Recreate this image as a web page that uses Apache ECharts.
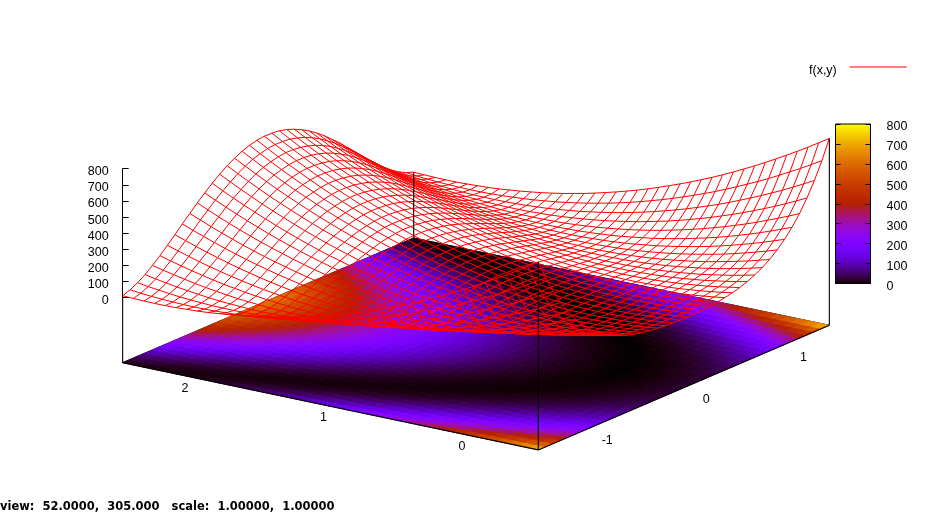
<!DOCTYPE html>
<html><head><meta charset="utf-8">
<style>html,body{margin:0;padding:0;background:#fff}#c{width:952px;height:515px}</style>
<script src="https://cdn.jsdelivr.net/npm/echarts@6/dist/echarts.min.js"></script>
</head><body><div id="c"></div>
<script>
const xRange=[-1.5,1.5];
const yRange=[-0.5,2.5];
const xTicks=[-1,0,1];
const yTicks=[0,1,2];
const zTicks=[0,100,200,300,400,500,600,700,800];
const seriesName='f(x,y)';
const statusText='view:  52.0000,  305.000   scale:  1.00000,  1.00000';
// surface heights: one row per x sample, one value per y sample
const r00=[762,721,680,641,603,566,530,495,462,429,398,368,340,312,286,261,237,214,192,172,153,135,118,102,88,74,62,51,42,33,26,19,14,11,8,6,6,7,9,12];
const r01=[644,606,568,533,498,464,432,401,371,342,314,288,263,239,216,194,174,154,136,119,103,89,75,63,52,42,34,26,20,15,11,8,6,6,7,9,12,16,22,29];
const r02=[541,506,472,439,408,378,349,321,294,268,244,221,199,178,159,140,123,107,92,78,66,55,44,36,28,21,16,12,9,7,6,7,8,11,15,20,27,35,43,53];
const r03=[451,419,388,358,330,303,277,252,229,206,185,165,146,128,112,97,82,70,58,47,38,30,23,17,12,9,6,5,5,6,9,13,17,23,31,39,48,59,71,84];
const r04=[374,345,318,291,265,241,218,196,176,156,138,121,105,90,76,64,53,43,34,26,20,14,10,7,6,5,6,7,10,15,20,26,34,43,53,64,77,91,105,121];
const r05=[308,282,257,233,210,189,168,149,131,115,99,85,71,59,49,39,30,23,17,12,8,6,4,4,5,7,11,15,21,28,36,45,56,67,80,94,109,126,143,162];
const r06=[253,230,207,186,166,147,129,112,97,83,70,58,47,38,29,22,16,11,8,5,4,4,5,8,11,16,22,29,37,47,57,69,82,96,112,128,146,165,185,206];
const r07=[207,186,166,147,129,112,97,83,70,58,47,38,29,22,16,11,8,5,4,4,5,8,11,16,22,29,37,47,57,69,82,96,112,128,146,165,185,206,229,252];
const r08=[168,149,131,115,99,85,71,59,49,39,30,23,17,12,8,6,4,4,5,7,11,15,21,28,36,45,56,67,80,94,109,126,143,162,182,203,225,249,273,299];
const r09=[136,119,103,88,74,62,51,41,32,24,18,12,8,5,4,3,4,5,8,13,18,24,32,41,51,62,75,89,103,119,137,155,174,195,217,240,264,290,317,344];
const r10=[110,95,80,68,56,45,36,28,21,15,10,7,4,3,3,4,7,11,15,21,29,37,46,57,69,82,96,112,128,146,165,186,207,229,253,278,304,331,360,390];
const r11=[89,75,63,52,41,33,25,18,13,9,6,4,3,4,5,8,12,17,24,32,40,50,61,74,87,102,118,135,153,173,193,215,238,262,288,314,342,371,401,432];
const r12=[71,59,48,38,30,22,16,11,7,4,2,2,3,5,8,12,18,25,32,42,52,63,76,90,105,121,138,157,176,197,219,243,267,293,320,348,377,407,439,472];
const r13=[58,47,38,29,22,15,10,7,4,2,2,3,5,8,13,18,25,33,42,53,64,77,91,106,122,140,158,178,199,221,245,269,295,322,350,379,410,441,474,508];
const r14=[48,38,30,22,16,11,7,4,2,2,3,5,8,12,18,25,32,42,52,63,76,90,105,121,138,157,176,197,219,243,267,293,320,348,377,407,439,472,506,541];
const r15=[40,32,24,17,12,8,5,3,2,3,4,7,11,16,23,31,39,49,60,73,86,101,117,134,152,172,192,214,237,261,287,313,341,370,400,431,464,498,532,568];
const r16=[35,27,20,14,9,6,3,2,2,3,6,10,14,20,28,36,45,56,68,81,95,111,127,145,164,185,206,228,252,277,303,330,359,389,419,451,485,519,555,591];
const r17=[30,22,16,10,6,3,2,1,2,3,6,11,16,22,30,39,49,60,73,87,101,117,135,153,172,193,215,238,262,288,315,342,371,402,433,466,499,534,570,608];
const r18=[27,20,14,9,5,3,1,1,2,4,8,12,18,25,33,42,53,64,77,91,106,123,140,159,179,200,222,246,270,296,323,351,381,411,443,476,510,545,582,620];
const r19=[26,19,13,8,5,2,1,1,2,5,8,13,19,26,34,44,54,66,79,93,109,125,143,162,182,203,226,249,274,300,327,356,385,416,448,481,515,551,587,625];
const r20=[25,18,12,7,4,1,0,0,1,4,7,12,18,25,33,43,53,65,78,92,108,124,142,161,181,202,225,248,273,299,326,355,384,415,447,480,514,550,586,624];
const r21=[26,19,13,8,4,2,0,0,1,3,7,11,17,24,32,41,52,63,76,90,105,122,139,158,178,199,221,245,269,295,322,350,380,410,442,475,509,544,581,619];
const r22=[29,21,15,9,5,2,1,0,1,2,5,10,15,21,29,38,48,59,72,86,100,116,134,152,171,192,214,237,261,287,314,341,370,401,432,465,498,533,569,607];
const r23=[33,25,18,12,7,4,1,0,0,1,4,8,12,18,26,34,43,54,66,79,93,109,125,143,162,183,204,226,250,275,301,328,357,387,417,449,483,517,553,589];
const r24=[38,30,22,15,10,6,3,1,0,1,2,5,9,14,21,29,37,47,58,71,84,99,115,132,150,170,190,212,235,259,285,311,339,368,398,429,462,496,530,566];
const r25=[46,36,28,20,14,9,5,2,0,0,1,3,6,10,16,23,30,40,50,61,74,88,103,119,136,155,174,195,217,241,265,291,318,346,375,405,437,470,504,539];
const r26=[56,45,36,27,20,13,8,5,2,0,0,1,3,6,11,16,23,31,40,51,62,75,89,104,120,138,156,176,197,219,243,267,293,320,348,377,408,439,472,506];
const r27=[69,57,46,36,28,20,14,9,5,2,0,0,1,3,6,10,16,23,30,40,50,61,74,88,103,119,136,155,174,195,217,241,265,291,318,346,375,405,437,470];
const r28=[86,72,60,49,38,30,22,15,10,6,3,1,0,1,2,5,9,14,21,29,37,47,58,71,84,99,115,132,150,170,190,212,235,259,285,311,339,368,398,429];
const r29=[107,92,77,65,53,42,33,25,18,12,7,4,1,0,0,1,4,8,12,18,26,34,43,54,66,79,93,109,125,143,162,183,204,226,250,275,301,328,357,387];
const r30=[133,116,100,85,71,59,48,38,29,21,15,9,5,2,1,0,1,2,5,10,15,21,29,38,48,59,72,86,100,116,134,152,171,192,214,237,261,287,314,341];
const r31=[164,145,127,111,95,81,67,55,45,35,26,19,13,8,4,2,0,0,1,3,7,11,17,24,32,41,52,63,76,90,105,122,139,158,178,199,221,245,269,295];
const r32=[203,182,162,143,125,108,93,79,66,54,43,34,25,18,12,7,4,1,0,0,1,4,7,12,18,25,33,43,53,65,78,92,108,124,142,161,181,202,225,248];
const r33=[249,226,203,182,162,143,125,108,93,79,66,54,43,34,25,18,12,7,4,1,0,0,1,4,7,12,18,25,33,43,53,65,78,92,108,124,142,161,181,202];
const r34=[304,278,253,229,206,185,164,145,127,111,95,81,67,55,45,35,26,19,13,8,4,2,0,0,1,3,7,11,17,24,32,41,52,63,76,90,105,122,139,158];
const r35=[369,340,313,286,260,236,213,191,171,151,133,116,100,85,71,59,48,38,29,21,15,9,5,2,1,0,1,2,5,10,15,21,29,38,48,59,72,86,100,116];
const r36=[446,414,383,353,325,298,272,247,224,201,180,160,141,123,107,92,77,65,53,42,33,25,18,12,7,4,1,0,0,1,4,8,12,18,26,34,43,54,66,79];
const r37=[535,500,466,433,402,372,343,315,288,262,238,215,193,172,153,134,117,101,86,72,60,49,38,30,22,15,10,6,3,1,0,1,2,5,9,14,21,29,37,47];
const r38=[638,600,562,527,492,458,426,395,365,336,308,282,257,233,210,188,168,148,130,113,97,83,69,57,46,36,28,20,14,9,5,2,0,0,1,3,6,10,16,23];
const r39=[756,715,674,635,597,560,524,489,456,423,392,362,334,306,280,255,231,208,186,166,147,129,112,96,82,68,56,45,36,27,20,13,8,5,2,0,0,1,3,6];
const surface=[r00,r01,r02,r03,r04,r05,r06,r07,r08,r09,r10,r11,r12,r13,r14,r15,r16,r17,r18,r19,r20,r21,r22,r23,r24,r25,r26,r27,r28,r29,r30,r31,r32,r33,r34,r35,r36,r37,r38,r39];

const nx=surface.length, ny=surface[0].length;
const zMax=800;
const rad=Math.PI/180, rotX=52*rad, rotZ=305*rad;
const view={cx:476,cy:344,sx:253.7,sy:123.5,floorGap:65,zSpan:129};
const xAt=i=>xRange[0]+(xRange[1]-xRange[0])*i/(nx-1);
const yAt=j=>yRange[0]+(yRange[1]-yRange[0])*j/(ny-1);
// 3D view projection; z===null means on the floor
function project(x,y,z){
  const u=(x-xRange[0])/(xRange[1]-xRange[0])*2-1;
  const v=(y-yRange[0])/(yRange[1]-yRange[0])*2-1;
  const px=view.cx+view.sx*(u*Math.cos(rotZ)+v*Math.sin(rotZ));
  let py=view.cy-view.sy*Math.cos(rotX)*(-u*Math.sin(rotZ)+v*Math.cos(rotZ));
  if(z!==null) py-=view.floorGap+z/zMax*view.zSpan;
  return [px,py];
}
function palette(g){ // gnuplot rgbformulae 7,5,15
  const c=t=>Math.round(255*Math.max(0,Math.min(1,t)));
  return `rgb(${c(Math.sqrt(g))},${c(g*g*g)},${c(Math.sin(2*Math.PI*g))})`;
}
const floorCells=[];
for(let i=0;i<nx-1;i++)for(let j=0;j<ny-1;j++)floorCells.push([i,j]);
const isolines=[];
for(let i=0;i<nx;i++)isolines.push(['x',i]);
for(let j=0;j<ny;j++)isolines.push(['y',j]);
const xa=xRange, ya=yRange;
const frameBack=[
  [[xa[0],ya[1],null],[xa[1],ya[1],null]],
  [[xa[1],ya[1],null],[xa[1],ya[0],null]]];
const frameFront=[
  [[xa[0],ya[1],null],[xa[0],ya[0],null]],
  [[xa[0],ya[0],null],[xa[1],ya[0],null]],
  [[xa[0],ya[1],null],[xa[0],ya[1],0]],
  [[xa[0],ya[0],null],[xa[0],ya[0],surface[0][0]]],
  [[xa[1],ya[0],null],[xa[1],ya[0],surface[nx-1][0]]],
  [[xa[1],ya[1],null],[xa[1],ya[1],surface[nx-1][ny-1]]]];
const lineSeries=(data,z)=>({type:'custom',coordinateSystem:'cartesian2d',xAxisIndex:0,yAxisIndex:0,z,silent:true,data:data.map((d,k)=>[k]),
  renderItem:(p,api)=>{const s=data[api.value(0)];const a=api.coord(project(...s[0])),b=api.coord(project(...s[1]));
    return {type:'line',shape:{x1:a[0],y1:a[1],x2:b[0],y2:b[1]},style:{stroke:'#000',lineWidth:1.1}};}});
const font='"Liberation Sans",Arial,sans-serif';
const axisLabel={color:'#000',fontFamily:font,fontSize:12.5,verticalAlign:'top',lineHeight:6};
const labelSeries=(ticks,pos,offX,offY)=>({type:'custom',coordinateSystem:'cartesian2d',xAxisIndex:0,yAxisIndex:0,z:6,silent:true,data:ticks.map(t=>[t]),
  renderItem:(p,api)=>{const t=api.value(0);const c=api.coord(pos(t));
    return {type:'text',x:c[0]+offX,y:c[1]+offY,style:{text:String(t),fill:'#000',font:'12.5px '+font,textAlign:'right',textVerticalAlign:'middle'}};}});
const gradStops=[];
for(let k=0;k<=64;k++)gradStops.push({offset:k/64,color:palette(1-k/64)});
const option={
  animation:false,backgroundColor:'#fff',
  title:{text:statusText,left:0,top:501,padding:0,textStyle:{fontFamily:'"DejaVu Sans",sans-serif',fontWeight:'bold',fontSize:11.5,color:'#000'}},
  legend:{data:[{name:seriesName,icon:'path://M0 0H712V12.5H0ZM0 100H0V100Z',itemStyle:{color:'#ff0000'}}],left:809,top:64,align:'right',itemWidth:57,itemHeight:8,padding:0,selectedMode:false,
    textStyle:{fontFamily:font,fontSize:12.5,color:'#000',padding:[0,8,0,0]}},
  grid:[{left:0,top:0,width:952,height:515,show:false},
        {left:122.7,top:168.7,width:1,height:129,show:false},
        {left:835.5,top:124,width:35,height:159.5,show:false}],
  xAxis:[{gridIndex:0,type:'value',min:0,max:952,show:false},
         {gridIndex:1,type:'value',min:0,max:1,show:false},
         {gridIndex:2,type:'value',min:0,max:1,show:false}],
  yAxis:[{gridIndex:0,type:'value',min:0,max:515,inverse:true,show:false},
         {gridIndex:1,type:'value',min:zTicks[0],max:zMax,interval:100,position:'left',z:6,
          axisLine:{show:true,onZero:false,lineStyle:{color:'#000',width:1}},axisTick:{show:true,inside:true,length:6,lineStyle:{color:'#000',width:1}},
          axisLabel:{...axisLabel,margin:14},splitLine:{show:false}},
         {gridIndex:2,type:'value',min:zTicks[0],max:zMax,interval:100,position:'left',z:6,
          axisLine:{show:false},axisTick:{show:true,inside:true,length:5,lineStyle:{color:'#000',width:1}},axisLabel:{show:false},splitLine:{show:false}},
         {gridIndex:2,type:'value',min:zTicks[0],max:zMax,interval:100,position:'right',z:6,
          axisLine:{show:false},axisTick:{show:true,inside:true,length:5,lineStyle:{color:'#000',width:1}},axisLabel:{...axisLabel,margin:16},splitLine:{show:false}}],
  series:[
    lineSeries(frameBack,1),
    {type:'custom',coordinateSystem:'cartesian2d',xAxisIndex:0,yAxisIndex:0,z:2,silent:true,data:floorCells,
     renderItem:(p,api)=>{const i=api.value(0),j=api.value(1);
       const mean=(surface[i][j]+surface[i+1][j]+surface[i][j+1]+surface[i+1][j+1])/4;
       const col=palette(Math.min(1,mean/zMax));
       const pts=[[i,j],[i+1,j],[i+1,j+1],[i,j+1]].map(q=>api.coord(project(xAt(q[0]),yAt(q[1]),null)));
       return {type:'polygon',shape:{points:pts},style:{fill:col,stroke:col,lineWidth:1}};}},
    {type:'custom',name:seriesName,coordinateSystem:'cartesian2d',xAxisIndex:0,yAxisIndex:0,z:3,silent:true,itemStyle:{color:'#ff0000'},
     data:isolines.map((d,k)=>[k]),
     renderItem:(p,api)=>{const d=isolines[api.value(0)];const pts=[];
       if(d[0]==='x'){for(let j=0;j<ny;j++)pts.push(api.coord(project(xAt(d[1]),yAt(j),surface[d[1]][j])));}
       else{for(let i=0;i<nx;i++)pts.push(api.coord(project(xAt(i),yAt(d[1]),surface[i][d[1]])));}
       return {type:'polyline',shape:{points:pts},style:{stroke:'#ff0000',fill:null,lineWidth:1}};}},
    lineSeries(frameFront,4),
    labelSeries(xTicks,t=>project(t,yRange[0],null),26,11.5),
    labelSeries(yTicks,t=>project(xRange[0],t,null),-3.5,11),
    {type:'custom',coordinateSystem:'cartesian2d',xAxisIndex:2,yAxisIndex:2,z:4,silent:true,data:[[0,zMax]],
     renderItem:(p,api)=>{const a=api.coord([0,api.value(1)]),b=api.coord([1,api.value(0)]);
       return {type:'rect',shape:{x:a[0],y:a[1],width:b[0]-a[0],height:b[1]-a[1]},
         style:{fill:new echarts.graphic.LinearGradient(0,0,0,1,gradStops),stroke:'#000',lineWidth:1}};}}
  ]
};
echarts.init(document.getElementById('c'),null,{renderer:'canvas'}).setOption(option);
</script></body></html>
